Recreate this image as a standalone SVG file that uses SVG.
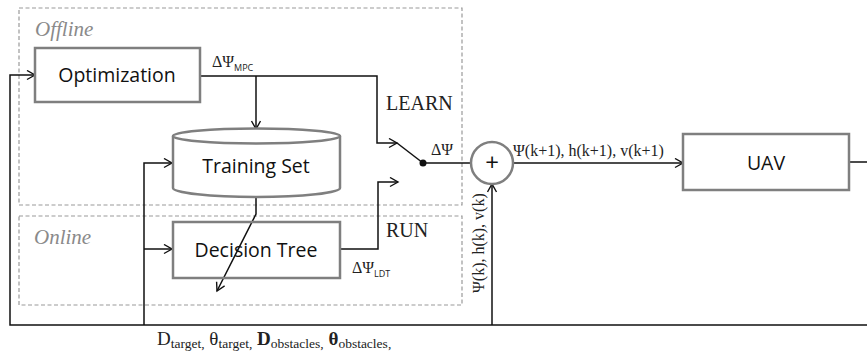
<svg xmlns="http://www.w3.org/2000/svg" width="867" height="356" viewBox="0 0 867 356">
<defs>
<marker id="arr" markerUnits="userSpaceOnUse" markerWidth="12" markerHeight="12" refX="9" refY="5" orient="auto">
<path d="M1,0.5 L9,5 L1,9.5" fill="none" stroke="#111" stroke-width="1.4"/>
</marker>
<style>
.grp{fill:none;stroke:#9a9a9a;stroke-width:1.2;stroke-dasharray:4 2.5}
.box{fill:#fff;stroke:#7f7f7f;stroke-width:2.5}
.lbl{font-family:"Open Sans",sans-serif;font-size:19.5px;fill:#111;text-anchor:middle}
.ser{font-family:"Liberation Serif","Times New Roman",serif;fill:#222}
.grey{font-family:"Liberation Serif",serif;font-style:italic;font-size:21px;fill:#8a8a8a}
.ln{fill:none;stroke:#111;stroke-width:1.5}
.sub{font-family:"Open Sans",sans-serif;font-size:9px}
</style>
</defs>

<g id="offline-group">
<rect class="grp" x="19" y="8" width="443" height="197"/>
<text class="grey" x="35" y="36">Offline</text>
</g>
<g id="online-group">
<rect class="grp" x="19" y="216" width="443" height="89"/>
<text class="grey" x="34" y="244">Online</text>
</g>

<g id="connectors">
<path class="ln" d="M200,76 H377 V143 H397" marker-end="url(#arr)"/>
<path class="ln" d="M256,76 V129" marker-end="url(#arr)"/>
<path class="ln" d="M397,143 L423,163"/>
<path class="ln" d="M340,249 H378 V182 H398" marker-end="url(#arr)"/>
<path class="ln" d="M256,197 V214 L217,291" marker-end="url(#arr)"/>
<path class="ln" d="M423,163 H470"/>
<path class="ln" d="M513,163 H683" marker-end="url(#arr)"/>
<path class="ln" d="M849,162 H869 V325 H10 V75 H35" stroke-width="2" marker-end="url(#arr)"/>
<path class="ln" d="M144,325 V163 H172" marker-end="url(#arr)"/>
<path class="ln" d="M144,249 H172" marker-end="url(#arr)"/>
<path class="ln" d="M492,325 V184" marker-end="url(#arr)"/>
<circle cx="423" cy="163" r="3.5" fill="#111"/>
</g>

<g id="optimization">
<rect class="box" x="35" y="48" width="165" height="54"/>
<text class="lbl" x="117" y="82" font-size="20">Optimization</text>
</g>

<g id="training-set">
<path class="box" d="M173,136 V188 A83.5,9 0 0 0 340,188 V136"/>
<ellipse class="box" cx="256.5" cy="136" rx="83.5" ry="7.5"/>
<text class="lbl" x="256" y="173">Training Set</text>
</g>

<g id="decision-tree">
<rect class="box" x="173" y="222" width="167" height="56" style="fill:none"/>
<text class="lbl" x="256" y="257">Decision Tree</text>
</g>

<g id="sum">
<circle cx="492" cy="163" r="21" fill="#fff" stroke="#7f7f7f" stroke-width="2.5"/>
<text x="492" y="171" font-family="Open Sans,sans-serif" font-size="24" text-anchor="middle" fill="#111">+</text>
</g>

<g id="uav">
<rect class="box" x="683" y="134" width="166" height="56"/>
<text class="lbl" x="766" y="170">UAV</text>
</g>

<g id="labels">
<text class="ser" x="212" y="67" font-size="16">ΔΨ<tspan class="sub" dy="4">MPC</tspan></text>
<text class="ser" x="386" y="110" font-size="20">LEARN</text>
<text class="ser" x="386" y="237" font-size="20">RUN</text>
<text class="ser" x="352" y="273" font-size="16">ΔΨ<tspan class="sub" dy="4">LDT</tspan></text>
<text class="ser" x="431" y="155" font-size="16">ΔΨ</text>
<text class="ser" x="513" y="156" font-size="16">Ψ(k+1), h(k+1), v(k+1)</text>
<text class="ser" font-size="16" transform="translate(484,293) rotate(-90)">Ψ(k), h(k), v(k)</text>
<text class="ser" x="157" y="345" font-size="19">D<tspan font-size="13.5" dy="3">target</tspan><tspan font-size="13.5">,</tspan><tspan dy="-3"> θ</tspan><tspan font-size="13.5" dy="3">target</tspan><tspan font-size="13.5">,</tspan><tspan dy="-3" font-weight="bold"> D</tspan><tspan font-size="13.5" dy="3">obstacles</tspan><tspan font-size="13.5">,</tspan><tspan dy="-3" font-weight="bold"> θ</tspan><tspan font-size="13.5" dy="3">obstacles</tspan><tspan font-size="13.5">,</tspan></text>
</g>
</svg>
